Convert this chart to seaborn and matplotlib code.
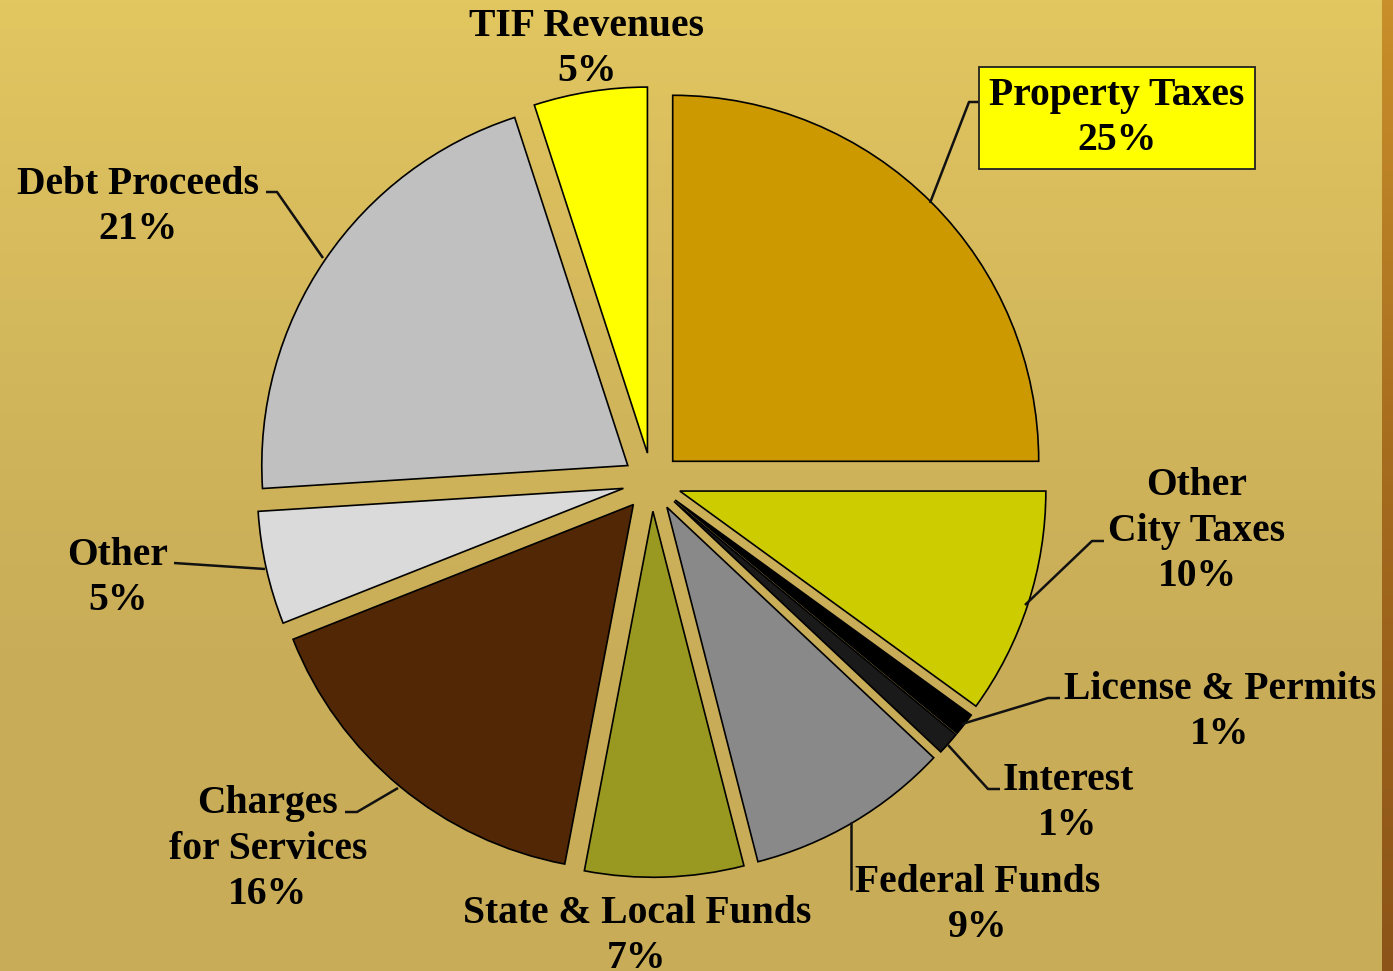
import matplotlib
matplotlib.use('Agg')
from matplotlib import pyplot as plt
from matplotlib.colors import LinearSegmentedColormap
import numpy as np
import seaborn as sns

# revenue sources, clockwise from 12 o'clock
sources = ['Property Taxes', 'Other\nCity Taxes', 'License & Permits', 'Interest',
           'Federal Funds', 'State & Local Funds', 'Charges\nfor Services', 'Other',
           'Debt Proceeds', 'TIF Revenues']
shares = [25, 10, 1, 1, 9, 7, 16, 5, 21, 5]
colors = ['#CC9900', '#CCCC00', '#000000', '#1A1A1A', '#898989',
          '#999922', '#522705', '#DADADA', '#C0C0C0', '#FFFF00']

W, H = 1393, 971
CX, CY, R = 652, 482, 366


def px(x, y):
    # pixel position -> data coords (pie radius = 1)
    return (x - CX) / R, (CY - y) / R


# label centre (pixels) and leader line points (pixels)
label_pos = [(1117, 118), (1197, 531), (1220, 712), (1068, 803),
             (978, 905), (637, 936), (268, 849), (118, 578),
             (138, 207), (587, 49)]
leaders = [
    [(930, 203), (969, 102), (980, 102)],
    [(1025, 605), (1092, 541), (1104, 541)],
    [(962, 724), (1048, 698), (1060, 698)],
    [(948, 745), (988, 789), (1000, 789)],
    [(851, 822), (851, 890)],
    None,
    [(398, 788), (357, 812), (345, 812)],
    [(265, 569), (174, 563)],
    [(323, 258), (277, 192), (266, 192)],
    None,
]

sns.set_style('white')
plt.rcParams['font.family'] = ['Liberation Serif', 'DejaVu Serif']

fig = plt.figure(figsize=(W / 100, H / 100), dpi=100)
ax = fig.add_axes([0, 0, 1, 1])

x0, x1 = px(0, 0)[0], px(W, 0)[0]
y1, y0 = px(0, 0)[1], px(0, H)[1]

# background gradient
bg = LinearSegmentedColormap.from_list('bg', ['#E2C660', '#D4B85C', '#C9AD58', '#C8AC58'])
grad = np.linspace(0, 1, 256).reshape(-1, 1)
ax.imshow(grad, cmap=bg, aspect='auto', extent=[x0, x1, y0, y1], zorder=0)
strip = LinearSegmentedColormap.from_list('strip', ['#C98F2A', '#A46A1E', '#8C5418'])
ax.imshow(grad, cmap=strip, aspect='auto',
          extent=[px(1382, 0)[0], x1, y0, y1], zorder=0.5)

wedges, _ = ax.pie(shares, colors=colors, startangle=90, counterclock=False,
                   explode=[0.08] * len(shares), radius=1,
                   wedgeprops=dict(edgecolor='black', linewidth=1.2))
for w in wedges:
    w.set_zorder(2)

for name, v, (lx, ly), pts in zip(sources, shares, label_pos, leaders):
    tx, ty = px(lx, ly)
    box = None
    if name == 'Property Taxes':
        box = dict(boxstyle='square,pad=0.25', facecolor='#FFFF00',
                   edgecolor='#222222', linewidth=1.3)
    ax.text(tx, ty, f'{name}\n{v}%', ha='center', va='center',
            fontsize=28.5, fontweight='bold', linespacing=1.3,
            color='black', bbox=box, zorder=4)
    if pts:
        xs, ys = zip(*[px(a, b) for a, b in pts])
        ax.plot(xs, ys, color='#111111', linewidth=1.8, zorder=3,
                solid_capstyle='butt')

ax.set_xlim(x0, x1)
ax.set_ylim(y0, y1)
ax.set_aspect('auto')
ax.axis('off')

fig.savefig('out.png', dpi=100)
